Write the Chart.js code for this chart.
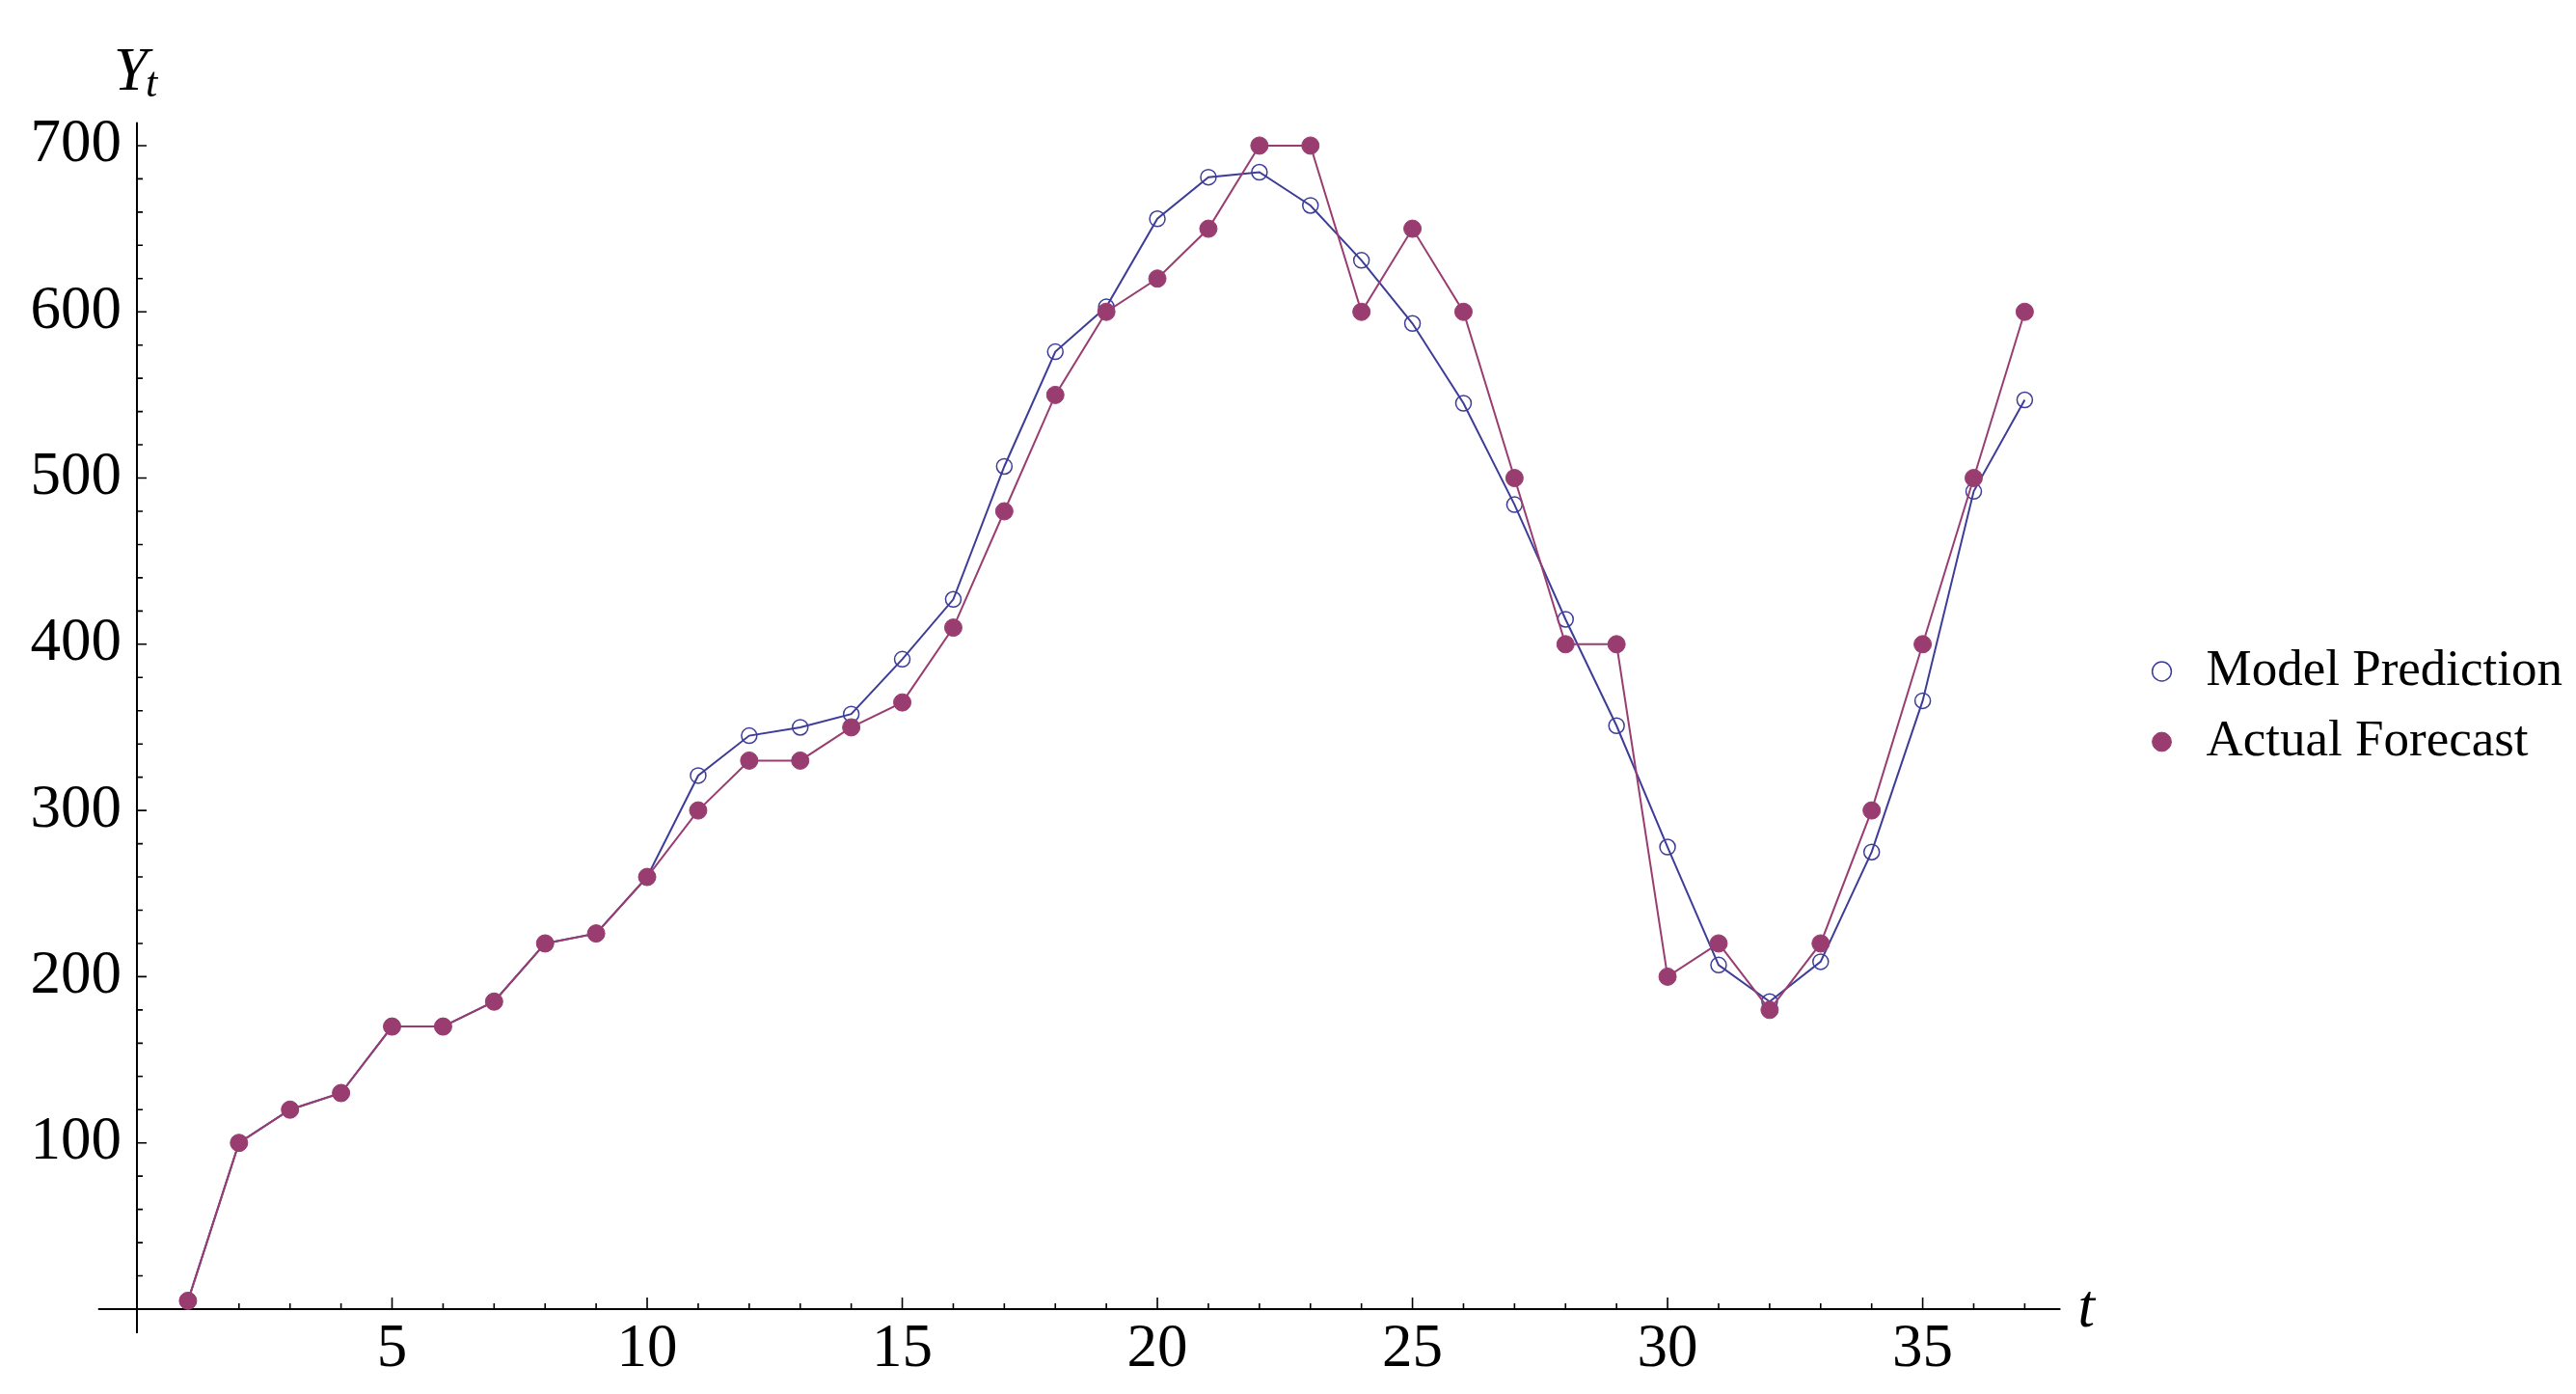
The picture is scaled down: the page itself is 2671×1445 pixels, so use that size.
<!DOCTYPE html>
<html>

<head>
    <title>Model Prediction vs Actual Forecast</title>
    <script src="https://cdn.jsdelivr.net/npm/chart.js"></script>
    <style>
        body { margin: 0; background: #fff; }
    </style>
</head>

<body>
    <canvas id="myChart" width="2671" height="1445"></canvas>
    <script>
        // values
        const periods = [1, 2, 3, 4, 5, 6, 7, 8, 9, 10, 11, 12, 13, 14, 15, 16, 17, 18, 19, 20,
            21, 22, 23, 24, 25, 26, 27, 28, 29, 30, 31, 32, 33, 34, 35, 36, 37];
        const modelPrediction = [5, 100, 120, 130, 170, 170, 185, 220, 226, 260, 321, 345, 350, 358, 391, 427, 507, 576, 603, 656,
            681, 684, 664, 631, 593, 545, 484, 415, 351, 278, 207, 185, 209, 275, 366, 492, 547];
        const actualForecast = [5, 100, 120, 130, 170, 170, 185, 220, 226, 260, 300, 330, 330, 350, 365, 410, 480, 550, 600, 620,
            650, 700, 700, 600, 650, 600, 500, 400, 400, 200, 220, 180, 220, 300, 400, 500, 600];
        const xTickLabels = [5, 10, 15, 20, 25, 30, 35];
        const yTickLabels = [100, 200, 300, 400, 500, 600, 700];

        const blue = 'rgb(61, 61, 153)';
        const purple = 'rgb(153, 61, 113)';
        const serif = '"Liberation Serif", "Times New Roman", serif';

        // Mathematica style axes crossing at the origin, ticks pointing inward
        const originAxes = {
            id: 'originAxes',
            beforeDatasetsDraw(chart) {
                const { ctx, scales: { x, y } } = chart;
                const x0 = x.getPixelForValue(0);
                const y0 = y.getPixelForValue(0);
                ctx.save();
                ctx.strokeStyle = '#000';
                ctx.lineWidth = 2;
                ctx.beginPath();
                ctx.moveTo(x.getPixelForValue(-0.76), y0);
                ctx.lineTo(x.getPixelForValue(37.7), y0);
                ctx.moveTo(x0, y.getPixelForValue(-14.5));
                ctx.lineTo(x0, y.getPixelForValue(714));
                ctx.stroke();

                ctx.lineWidth = 1.6;
                ctx.beginPath();
                for (let t = 1; t <= 37; t++) {
                    const px = x.getPixelForValue(t);
                    ctx.moveTo(px, y0);
                    ctx.lineTo(px, y0 - (t % 5 === 0 ? 12 : 6));
                }
                for (let v = 20; v <= 700; v += 20) {
                    const py = y.getPixelForValue(v);
                    ctx.moveTo(x0, py);
                    ctx.lineTo(x0 + (v % 100 === 0 ? 10 : 6), py);
                }
                ctx.stroke();

                // axis labels
                ctx.fillStyle = '#000';
                ctx.textBaseline = 'alphabetic';
                ctx.textAlign = 'left';
                const top = y.getPixelForValue(700);
                ctx.font = 'italic 63px ' + serif;
                ctx.fillText('Y', x0 - 24, top - 58);
                ctx.font = 'italic 44px ' + serif;
                ctx.fillText('t', x0 + 9, top - 51);
                ctx.font = 'italic 63px ' + serif;
                ctx.fillText('t', x.getPixelForValue(37.7) + 18, y0 + 18);
                ctx.restore();
            }
        };

        const chartData = {
            datasets: [{
                label: 'Model Prediction',
                data: periods.map((t, i) => ({ x: t, y: modelPrediction[i] })),
                borderColor: blue,
                backgroundColor: 'rgba(0, 0, 0, 0)',
                pointBorderColor: blue,
                pointBackgroundColor: 'rgba(0, 0, 0, 0)',
                borderWidth: 2,
                pointRadius: 8,
                pointBorderWidth: 1.5,
                clip: false,
                order: 2
            }, {
                label: 'Actual Forecast',
                data: periods.map((t, i) => ({ x: t, y: actualForecast[i] })),
                borderColor: purple,
                backgroundColor: purple,
                pointBorderColor: purple,
                pointBackgroundColor: purple,
                borderWidth: 2,
                pointRadius: 9,
                pointBorderWidth: 1,
                clip: false,
                order: 1
            }]
        };

        const config = {
            type: 'line',
            data: chartData,
            plugins: [originAxes],
            options: {
                responsive: false,
                animation: false,
                devicePixelRatio: 1,
                layout: { padding: { top: 20, right: 4, left: 0, bottom: 0 } },
                elements: { line: { tension: 0 }, point: { pointStyle: 'circle' } },
                scales: {
                    x: {
                        type: 'linear',
                        min: 0,
                        max: 38.94,
                        grid: { display: false },
                        border: { display: false },
                        afterBuildTicks: scale => { scale.ticks = xTickLabels.map(v => ({ value: v })); },
                        afterFit: scale => { scale.height = 88; scale.paddingLeft = 0; scale.paddingRight = 0; },
                        ticks: {
                            color: '#000',
                            padding: 3,
                            maxRotation: 0,
                            font: { family: serif, size: 63, lineHeight: 1 }
                        }
                    },
                    y: {
                        type: 'linear',
                        min: 0,
                        max: 776,
                        grid: { display: false },
                        border: { display: false },
                        afterBuildTicks: scale => { scale.ticks = yTickLabels.map(v => ({ value: v })); },
                        afterFit: scale => { scale.width = 142; scale.paddingTop = 0; scale.paddingBottom = 0; },
                        ticks: {
                            color: '#000',
                            padding: 8,
                            font: { family: serif, size: 63, lineHeight: 1 }
                        }
                    }
                },
                plugins: {
                    tooltip: { enabled: false },
                    legend: {
                        position: 'right',
                        align: 'center',
                        labels: {
                            usePointStyle: true,
                            pointStyle: 'circle',
                            boxWidth: 39,
                            boxHeight: 14,
                            padding: 20,
                            color: '#000',
                            font: { family: serif, size: 53 },
                            sort: (a, b) => a.datasetIndex - b.datasetIndex
                        }
                    }
                }
            }
        };

        var myChart = new Chart(document.getElementById('myChart'), config);
    </script>
</body>

</html>
